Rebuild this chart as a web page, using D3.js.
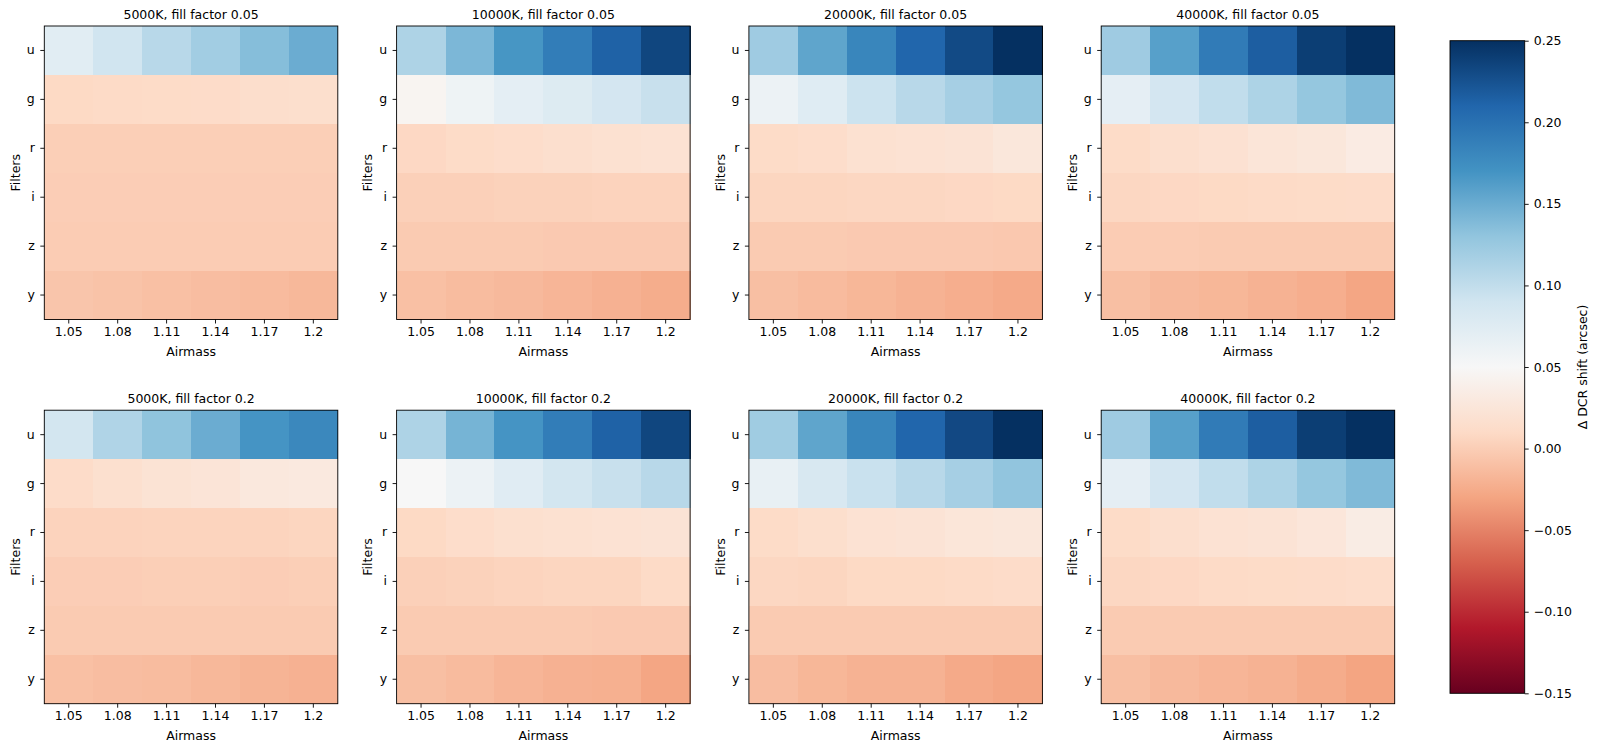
<!DOCTYPE html>
<html>
<head>
<meta charset="utf-8">
<script src="https://cdn.jsdelivr.net/npm/d3@7"></script>
<style>
  html, body { margin: 0; padding: 0; background: #ffffff; }
  svg { display: block; font-family: "DejaVu Sans", sans-serif; }
</style>
</head>
<body>
<svg id="chart" width="1600" height="752"></svg>
<script>
// ---------------- data ----------------
const airmassLabels = ["1.05", "1.08", "1.11", "1.14", "1.17", "1.2"];
const filters = ["u", "g", "r", "i", "z", "y"];
const temperatures = ["5000K", "10000K", "20000K", "40000K"];
const fillFactors = ["0.05", "0.2"];
const colorbarTicks = [0.25, 0.20, 0.15, 0.10, 0.05, 0.00, -0.05, -0.10, -0.15];
const colorDomain = [-0.15, 0.25];
// RdBu colour anchors (ColorBrewer, as used by matplotlib)
const rdbuColors = ["#67001f","#b2182b","#d6604d","#f4a582","#fddbc7","#f7f7f7","#d1e5f0","#92c5de","#4393c3","#2166ac","#053061"];

// rows: u, g, r, i, z, y ; columns: airmass 1.05 .. 1.2
const shift_5000K_ff005 = [
  [0.073, 0.090, 0.106, 0.120, 0.136, 0.150],
  [0.009, 0.010, 0.011, 0.012, 0.014, 0.015],
  [0.001, 0.001, 0.001, 0.001, 0.001, 0.001],
  [0.000, 0.000, 0.000, 0.000, 0.000, 0.000],
  [-0.001, -0.001, -0.001, -0.001, -0.001, -0.001],
  [-0.006, -0.008, -0.010, -0.012, -0.014, -0.016]
];
const shift_10000K_ff005 = [
  [0.112, 0.141, 0.168, 0.190, 0.213, 0.234],
  [0.045, 0.060, 0.070, 0.077, 0.087, 0.096],
  [0.008, 0.011, 0.013, 0.016, 0.018, 0.020],
  [0.002, 0.002, 0.003, 0.003, 0.004, 0.004],
  [-0.002, -0.002, -0.002, -0.003, -0.003, -0.003],
  [-0.010, -0.013, -0.015, -0.018, -0.021, -0.024]
];
const shift_20000K_ff005 = [
  [0.122, 0.156, 0.182, 0.210, 0.231, 0.250],
  [0.062, 0.075, 0.093, 0.106, 0.117, 0.128],
  [0.011, 0.013, 0.018, 0.020, 0.022, 0.027],
  [0.006, 0.006, 0.007, 0.007, 0.008, 0.009],
  [-0.002, -0.002, -0.003, -0.003, -0.003, -0.004],
  [-0.011, -0.014, -0.017, -0.020, -0.023, -0.026]
];
const shift_40000K_ff005 = [
  [0.122, 0.160, 0.191, 0.216, 0.240, 0.250],
  [0.069, 0.087, 0.100, 0.113, 0.128, 0.139],
  [0.011, 0.016, 0.019, 0.024, 0.027, 0.033],
  [0.007, 0.008, 0.009, 0.010, 0.011, 0.012],
  [-0.001, -0.001, -0.002, -0.002, -0.002, -0.002],
  [-0.011, -0.015, -0.017, -0.020, -0.023, -0.029]
];
const shift_5000K_ff02 = [
  [0.088, 0.111, 0.131, 0.150, 0.169, 0.180],
  [0.012, 0.017, 0.021, 0.023, 0.028, 0.030],
  [0.004, 0.004, 0.005, 0.005, 0.005, 0.006],
  [0.000, 0.000, 0.001, 0.001, 0.000, 0.001],
  [-0.002, -0.002, -0.002, -0.002, -0.002, -0.002],
  [-0.010, -0.012, -0.013, -0.016, -0.019, -0.021]
];
const shift_10000K_ff02 = [
  [0.112, 0.144, 0.169, 0.190, 0.213, 0.234],
  [0.050, 0.062, 0.074, 0.088, 0.096, 0.106],
  [0.009, 0.013, 0.017, 0.018, 0.020, 0.022],
  [0.002, 0.003, 0.005, 0.006, 0.006, 0.010],
  [-0.002, -0.002, -0.002, -0.002, -0.003, -0.003],
  [-0.011, -0.014, -0.018, -0.021, -0.022, -0.029]
];
const shift_20000K_ff02 = [
  [0.121, 0.156, 0.182, 0.210, 0.232, 0.250],
  [0.066, 0.083, 0.095, 0.106, 0.117, 0.130],
  [0.011, 0.015, 0.020, 0.022, 0.025, 0.027],
  [0.007, 0.006, 0.009, 0.009, 0.010, 0.012],
  [-0.002, -0.002, -0.002, -0.002, -0.002, -0.002],
  [-0.012, -0.017, -0.020, -0.020, -0.026, -0.029]
];
const shift_40000K_ff02 = [
  [0.122, 0.160, 0.191, 0.216, 0.240, 0.250],
  [0.069, 0.087, 0.100, 0.113, 0.128, 0.139],
  [0.011, 0.016, 0.020, 0.022, 0.026, 0.034],
  [0.007, 0.008, 0.010, 0.011, 0.012, 0.013],
  [-0.002, -0.002, -0.002, -0.002, -0.002, -0.002],
  [-0.011, -0.015, -0.018, -0.020, -0.025, -0.030]
];

const panels = [
  { temp: temperatures[0], ff: fillFactors[0], values: shift_5000K_ff005 },
  { temp: temperatures[1], ff: fillFactors[0], values: shift_10000K_ff005 },
  { temp: temperatures[2], ff: fillFactors[0], values: shift_20000K_ff005 },
  { temp: temperatures[3], ff: fillFactors[0], values: shift_40000K_ff005 },
  { temp: temperatures[0], ff: fillFactors[1], values: shift_5000K_ff02 },
  { temp: temperatures[1], ff: fillFactors[1], values: shift_10000K_ff02 },
  { temp: temperatures[2], ff: fillFactors[1], values: shift_20000K_ff02 },
  { temp: temperatures[3], ff: fillFactors[1], values: shift_40000K_ff02 }
];

// ---------------- layout ----------------
const svg = d3.select("#chart");
const FONT = 12.5;
const panelW = 293.5, panelH = 293.5;
const panelLeft0 = 44.3, panelStep = 352.3;
const rowTops = [26, 410.2];

const anchorVals = d3.range(rdbuColors.length).map(i => colorDomain[0] + i * (colorDomain[1] - colorDomain[0]) / (rdbuColors.length - 1));
const color = d3.scaleLinear().domain(anchorVals).range(rdbuColors).interpolate(d3.interpolateRgb).clamp(true);

panels.forEach((p, idx) => {
  const col = idx % 4, row = Math.floor(idx / 4);
  const x0 = panelLeft0 + col * panelStep;
  const y0 = rowTops[row];
  const g = svg.append("g").attr("transform", `translate(${x0},${y0})`);

  const x = d3.scaleBand().domain(airmassLabels).range([0, panelW]).padding(0);
  const y = d3.scaleBand().domain(filters).range([0, panelH]).padding(0);

  const cells = [];
  p.values.forEach((rowVals, ri) => rowVals.forEach((v, ci) => cells.push({ f: filters[ri], a: airmassLabels[ci], v })));

  g.selectAll("rect.cell").data(cells).enter().append("rect")
    .attr("class", "cell")
    .attr("x", d => x(d.a))
    .attr("y", d => y(d.f))
    .attr("width", x.bandwidth() + 0.5)
    .attr("height", y.bandwidth() + 0.5)
    .attr("fill", d => color(d.v))
    .attr("shape-rendering", "crispEdges");

  // frame
  g.append("rect").attr("x", 0).attr("y", 0).attr("width", panelW).attr("height", panelH)
    .attr("fill", "none").attr("stroke", "#000").attr("stroke-width", 0.9);

  // x axis
  const xAxis = g.append("g").attr("transform", `translate(0,${panelH})`)
    .call(d3.axisBottom(x).tickSize(4).tickPadding(3.5));
  xAxis.select(".domain").remove();
  xAxis.selectAll("text").attr("font-size", FONT).attr("font-family", "DejaVu Sans").attr("fill", "#000");
  xAxis.selectAll("line").attr("stroke", "#000").attr("stroke-width", 0.9);

  // y axis
  const yAxis = g.append("g").call(d3.axisLeft(y).tickSize(4).tickPadding(5.5));
  yAxis.select(".domain").remove();
  yAxis.selectAll("text").attr("font-size", FONT).attr("font-family", "DejaVu Sans").attr("fill", "#000");
  yAxis.selectAll("line").attr("stroke", "#000").attr("stroke-width", 0.9);

  // title
  g.append("text").attr("x", panelW / 2).attr("y", -7.5).attr("text-anchor", "middle")
    .attr("font-size", FONT).attr("fill", "#000")
    .text(`${p.temp}, fill factor ${p.ff}`);

  // axis labels
  g.append("text").attr("x", panelW / 2).attr("y", panelH + 36.8).attr("text-anchor", "middle")
    .attr("font-size", FONT).attr("fill", "#000").text("Airmass");
  g.append("text").attr("transform", `translate(-24.2,${panelH / 2}) rotate(-90)`)
    .attr("text-anchor", "middle").attr("font-size", FONT).attr("fill", "#000").text("Filters");
});

// ---------------- colorbar ----------------
const cbX = 1450, cbW = 74.7, cbTop = 40.7, cbBottom = 693.3;
const cbScale = d3.scaleLinear().domain(colorDomain).range([cbBottom, cbTop]);
const defs = svg.append("defs");
const grad = defs.append("linearGradient").attr("id", "cbgrad")
  .attr("x1", 0).attr("y1", 1).attr("x2", 0).attr("y2", 0);
anchorVals.forEach((v, i) => {
  grad.append("stop").attr("offset", (v - colorDomain[0]) / (colorDomain[1] - colorDomain[0]))
    .attr("stop-color", rdbuColors[i]);
});
svg.append("rect").attr("x", cbX).attr("y", cbTop).attr("width", cbW).attr("height", cbBottom - cbTop)
  .attr("fill", "url(#cbgrad)").attr("stroke", "#000").attr("stroke-width", 0.9);

const fmt = d => (d < 0 ? "\u2212" : "") + Math.abs(d).toFixed(2);
const cbAxis = svg.append("g").attr("transform", `translate(${cbX + cbW},0)`)
  .call(d3.axisRight(cbScale).tickValues(colorbarTicks).tickFormat(fmt).tickSize(4).tickPadding(5));
cbAxis.select(".domain").remove();
cbAxis.selectAll("text").attr("font-size", FONT).attr("font-family", "DejaVu Sans").attr("fill", "#000");
cbAxis.selectAll("line").attr("stroke", "#000").attr("stroke-width", 0.9);

svg.append("text").attr("transform", `translate(${1586.5},${(cbTop + cbBottom) / 2}) rotate(-90)`)
  .attr("text-anchor", "middle").attr("font-size", FONT).attr("fill", "#000")
  .text("\u0394 DCR shift (arcsec)");
</script>
</body>
</html>
